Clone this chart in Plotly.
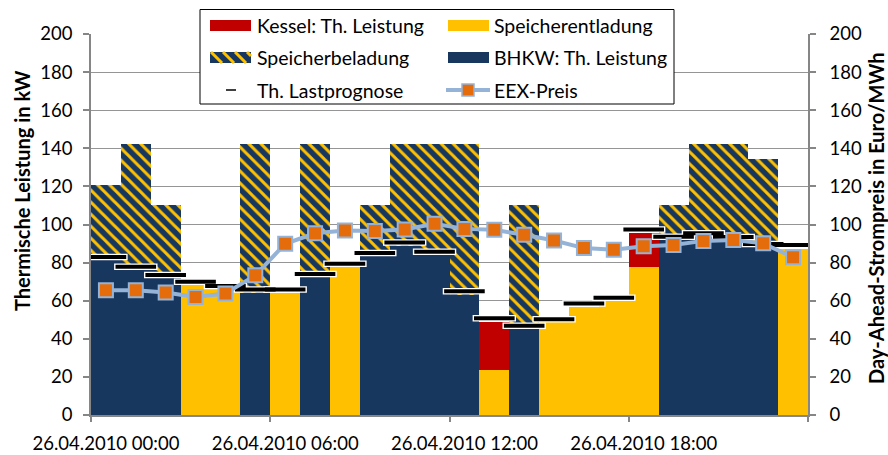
import plotly.graph_objects as go

# ---- data: one value per hour of 26.04.2010 ----
hours = list(range(24))
x_tick_labels = ["26.04.2010 00:00", "26.04.2010 06:00", "26.04.2010 12:00", "26.04.2010 18:00"]
x_tick_hours = [0, 6, 12, 18]

bhkw = [81.3, 76.3, 71.8, 0, 0, 64.3, 0, 72.3, 0, 83.5, 88.8, 84.0,
        63.2, 0, 45.2, 0, 0, 0, 0, 92.0, 93.7, 91.8, 88.0, 0]
speicherentladung = [0, 0, 0, 68.3, 66.0, 0, 64.0, 0, 77.6, 0, 0, 0,
                     0, 23.6, 0, 48.7, 56.9, 59.9, 77.6, 0, 0, 0, 0, 87.4]
kessel = [0, 0, 0, 0, 0, 0, 0, 0, 0, 0, 0, 0,
          0, 25.4, 0, 0, 0, 0, 17.8, 0, 0, 0, 0, 0]
speicherbeladung = [39.7, 65.7, 38.5, 0, 0, 77.7, 0, 69.7, 0, 26.8, 53.2, 58.0,
                    78.8, 0, 65.1, 0, 0, 0, 0, 18.3, 48.3, 50.2, 46.5, 0]
lastprognose = [83.0, 77.8, 73.5, 70.0, 67.7, 65.9, 65.9, 74.0, 79.4, 85.1, 90.5, 85.7,
                64.9, 50.8, 46.8, 50.3, 58.5, 61.5, 97.4, 93.6, 95.4, 93.4, 89.7, 89.2]
eex_preis = [65.5, 65.5, 64.3, 61.9, 63.8, 73.3, 89.9, 95.4, 96.9, 96.6, 97.4, 100.4,
             97.7, 97.2, 94.6, 91.6, 87.6, 86.7, 88.6, 89.2, 91.4, 91.8, 90.1, 82.8]

# ---- styling ----
DARK_BLUE = "#17375E"
YELLOW = "#FFC000"
RED = "#C00000"
ORANGE = "#E46C0A"
LIGHT_BLUE = "#95B3D7"
GRID = "#959595"
AXIS = "#868686"
FONT = "Lato"
FS_TICK = 18.5
FS_LEGEND = 19.5
FS_TITLE = 20

W, H = 888, 455
ML, MR, MT, MB = 91, 80, 34, 40
PW, PH = W - ML - MR, H - MT - MB

x_mid = [h + 0.5 for h in hours]

fig = go.Figure()

bar_common = dict(x=x_mid, width=1, marker_line_width=0, showlegend=False)
fig.add_trace(go.Bar(y=bhkw, name="BHKW: Th. Leistung", marker_color=DARK_BLUE, **bar_common))
fig.add_trace(go.Bar(y=speicherentladung, name="Speicherentladung", marker_color=YELLOW, **bar_common))
fig.add_trace(go.Bar(y=kessel, name="Kessel: Th. Leistung", marker_color=RED, **bar_common))
fig.add_trace(go.Bar(
    y=speicherbeladung, name="Speicherbeladung",
    marker=dict(color=DARK_BLUE,
                pattern=dict(shape="\\", fgcolor=YELLOW, bgcolor=DARK_BLUE,
                             size=8.5, solidity=0.36, fillmode="replace")),
    **bar_common))

# load forecast as wide dashes with a thin white rim
fig.add_trace(go.Scatter(
    x=x_mid, y=lastprognose, mode="markers", showlegend=False, hoverinfo="skip",
    marker=dict(symbol="line-ew", size=31, line=dict(width=6.5, color="white"))))
fig.add_trace(go.Scatter(
    x=x_mid, y=lastprognose, mode="markers", name="Th. Lastprognose", showlegend=False,
    marker=dict(symbol="line-ew", size=29, line=dict(width=4, color="black"))))

# day-ahead price on the secondary axis
fig.add_trace(go.Scatter(
    x=x_mid, y=eex_preis, mode="lines+markers", name="EEX-Preis", showlegend=False,
    xaxis="x2", yaxis="y2",
    line=dict(color=LIGHT_BLUE, width=4),
    marker=dict(symbol="square", size=14, color=ORANGE, line=dict(color=LIGHT_BLUE, width=2))))


def px(x, y):
    """pixel position -> paper coordinates"""
    return (x - ML) / PW, (H - MB - y) / PH


shapes = []
annotations = []


def rect(x0, y0, x1, y1, fill, line_color=None, line_width=0):
    a0, b0 = px(x0, y0)
    a1, b1 = px(x1, y1)
    shapes.append(dict(type="rect", xref="paper", yref="paper", x0=a0, y0=b1, x1=a1, y1=b0,
                       fillcolor=fill, layer="above",
                       line=dict(color=line_color or fill, width=line_width)))


def seg(x0, y0, x1, y1, color, width):
    a0, b0 = px(x0, y0)
    a1, b1 = px(x1, y1)
    shapes.append(dict(type="line", xref="paper", yref="paper", x0=a0, y0=b0, x1=a1, y1=b1,
                       layer="above", line=dict(color=color, width=width)))


def label(x, y, text):
    a, b = px(x, y)
    annotations.append(dict(text=text, x=a, y=b, xref="paper", yref="paper", showarrow=False,
                            xanchor="left", yanchor="middle",
                            font=dict(family=FONT, size=FS_LEGEND, color="black")))


# legend box
rect(200, 9.5, 674, 104, "white", "black", 1)
rows = [25.5, 57.5, 90]
c1, c2 = 210, 448
sw, sh = 41, 11
# row 1
rect(c1, rows[0] - sh / 2, c1 + sw, rows[0] + sh / 2, RED)
label(255, rows[0], "Kessel: Th. Leistung")
rect(c2, rows[0] - sh / 2, c2 + sw, rows[0] + sh / 2, YELLOW)
label(492, rows[0], "Speicherentladung")
# row 2: hatched swatch
top, bot = rows[1] - sh / 2, rows[1] + sh / 2
rect(c1, top, c1 + sw, bot, DARK_BLUE)
step = 12
c = c1 - sh
while c < c1 + sw:
    xs = max(c, c1)
    xe = min(c + sh, c1 + sw)
    if xe > xs:
        seg(xs, top + (xs - c), xe, top + (xe - c), YELLOW, 3)
    c += step
label(255, rows[1], "Speicherbeladung")
rect(c2, top, c2 + sw, bot, DARK_BLUE)
label(492, rows[1], "BHKW: Th. Leistung")
# row 3
seg(226, rows[2], 236, rows[2], "black", 1.5)
label(255, rows[2], "Th. Lastprognose")
seg(446, rows[2], 490, rows[2], LIGHT_BLUE, 4)
rect(462, rows[2] - 6, 474, rows[2] + 6, ORANGE, LIGHT_BLUE, 1.5)
label(492, rows[2], "EEX-Preis")

# axis titles
ax, ay = px(22, 191)
annotations.append(dict(text="<b>Thermische Leistung in kW</b>", x=ax, y=ay, xref="paper", yref="paper",
                        showarrow=False, textangle=-90, xanchor="center", yanchor="middle",
                        font=dict(family=FONT, size=FS_TITLE, color="black")))
ax, ay = px(876, 218)
annotations.append(dict(text="<b>Day-Ahead-Strompreis in Euro/MWh</b>", x=ax, y=ay, xref="paper",
                        yref="paper", showarrow=False, textangle=-90, xanchor="center",
                        yanchor="middle", font=dict(family=FONT, size=FS_TITLE, color="black")))

tickfont = dict(family=FONT, size=FS_TICK, color="black")
fig.update_layout(
    width=W, height=H,
    margin=dict(l=ML, r=MR, t=MT, b=MB, autoexpand=False),
    paper_bgcolor="white", plot_bgcolor="white",
    barmode="stack", showlegend=False,
    shapes=shapes, annotations=annotations,
    xaxis=dict(range=[0, 24], tickvals=[h + 0.5 for h in x_tick_hours], ticktext=x_tick_labels,
               ticks="", showgrid=False, zeroline=False, showline=True, linecolor=AXIS,
               linewidth=1.5, tickfont=tickfont, ticklabelstandoff=11, fixedrange=True),
    xaxis2=dict(range=[0, 24], overlaying="x", anchor="y2", side="bottom",
                tickvals=[0, 6, 12, 18, 24], ticks="outside", ticklen=6, tickwidth=1.5,
                tickcolor=AXIS, showticklabels=False, showgrid=False, zeroline=False,
                showline=False),
    yaxis=dict(range=[0, 200], dtick=20, ticks="outside", ticklen=6, tickwidth=1.5, tickcolor=AXIS,
               showgrid=True, gridcolor=GRID, gridwidth=1.3, zeroline=False, showline=True,
               linecolor=AXIS, linewidth=1.5, tickfont=tickfont, ticklabelstandoff=7),
    yaxis2=dict(range=[0, 200], dtick=20, overlaying="y", side="right", anchor="x2",
                ticks="outside", ticklen=6, tickwidth=1.5, tickcolor=AXIS, showgrid=False,
                zeroline=False, showline=True, linecolor=AXIS, linewidth=1.5,
                tickfont=tickfont, ticklabelstandoff=10),
)

fig.write_html("out.html")
